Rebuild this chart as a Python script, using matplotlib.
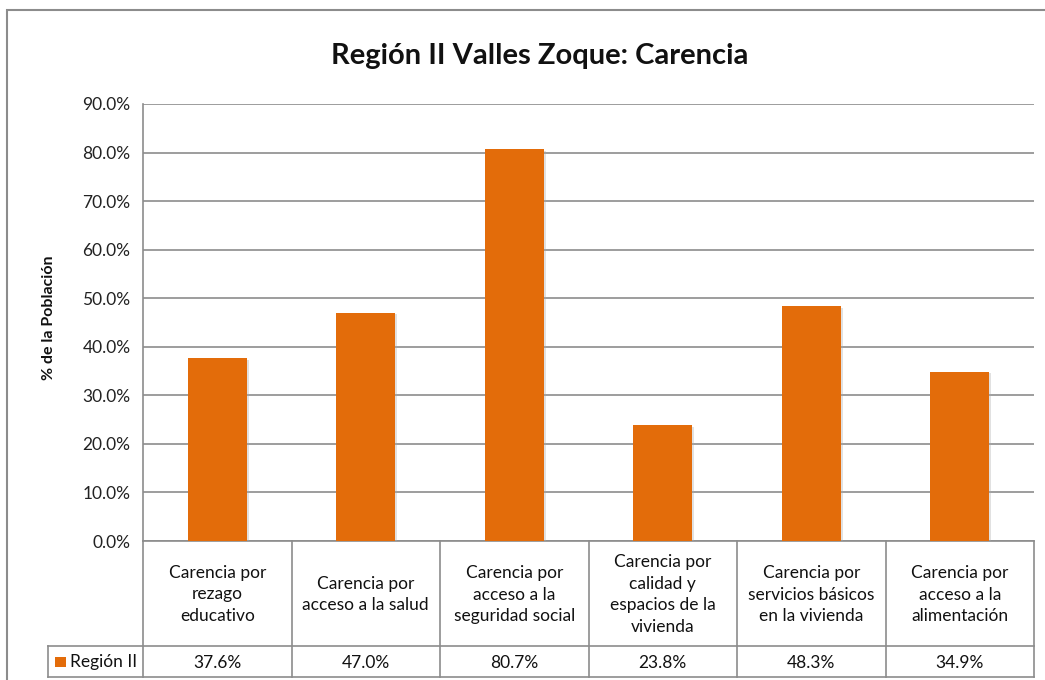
import matplotlib
matplotlib.use("Agg")
import matplotlib.pyplot as plt
from matplotlib.transforms import blended_transform_factory
from matplotlib.patches import Rectangle
import matplotlib.patheffects as pe
from matplotlib.ticker import FuncFormatter

plt.rcParams['font.family'] = ['Lato', 'DejaVu Sans']

title = "Región II Valles Zoque: Carencia"
ylabel = "% de la Población"
series_name = "Región II"
categories = [
    "Carencia por\nrezago\neducativo",
    "Carencia por\nacceso a la salud",
    "Carencia por\nacceso a la\nseguridad social",
    "Carencia por\ncalidad y\nespacios de la\nvivienda",
    "Carencia por\nservicios básicos\nen la vivienda",
    "Carencia por\nacceso a la\nalimentación",
]
values = [37.6, 47.0, 80.7, 23.8, 48.3, 34.9]
yticks = [0, 10, 20, 30, 40, 50, 60, 70, 80, 90]

W, H = 1045, 680
BAR = "#E36C0A"
GRID = "#8C8C8C"

fig = plt.figure(figsize=(W / 100, H / 100), dpi=100)

def fx(px):
    return px / W

def fy(py):
    return (H - py) / H

ax_left, ax_right, ax_top, ax_bot = 143, 1034, 104, 541
ax = fig.add_axes([fx(ax_left), fy(ax_bot), fx(ax_right - ax_left), (ax_bot - ax_top) / H])

x = list(range(len(categories)))
bars = ax.bar(x, values, width=0.40, color=BAR, zorder=3,
              path_effects=[pe.SimplePatchShadow(offset=(1.2, -1.2), shadow_rgbFace="#aaaaaa", alpha=0.35), pe.Normal()])
ax.set_xlim(-0.5, len(categories) - 0.5)
ax.set_ylim(0, 90)
ax.set_yticks(yticks)
ax.yaxis.set_major_formatter(FuncFormatter(lambda v, p: f"{v:.1f}%"))
ax.tick_params(axis='y', length=0, pad=9, labelsize=12.5, labelcolor="#222222")
ax.set_xticks([])
ax.grid(axis='y', color=GRID, linewidth=1.2, zorder=0)
for s in ['top', 'right']:
    ax.spines[s].set_visible(False)
ax.spines['left'].set_color(GRID)
ax.spines['left'].set_linewidth(1.2)
ax.spines['bottom'].set_color(GRID)
ax.spines['bottom'].set_linewidth(1.2)

# y label
fig.text(fx(49), fy(318), ylabel, rotation=90, ha='center', va='center',
         fontsize=11.5, fontweight='bold', color="#111111")

# title
fig.text(fx(540), fy(56), title, ha='center', va='center', fontsize=21,
         fontweight='bold', color="#111111")

# data table below axes
tr = blended_transform_factory(ax.transData, fig.transFigure)
row1_bot, row2_bot = 646, 677
lkw = dict(color=GRID, linewidth=1.2, clip_on=False)
n = len(categories)
for i in range(n + 1):
    xb = i - 0.5
    fig.add_artist(plt.Line2D([xb, xb], [fy(ax_bot), fy(row2_bot)], transform=tr, **lkw))
fig.add_artist(plt.Line2D([fx(48), fx(ax_right)], [fy(row1_bot), fy(row1_bot)], transform=fig.transFigure, **lkw))
fig.add_artist(plt.Line2D([fx(48), fx(ax_right)], [fy(row2_bot), fy(row2_bot)], transform=fig.transFigure, **lkw))
fig.add_artist(plt.Line2D([fx(48), fx(48)], [fy(row1_bot), fy(row2_bot)], transform=fig.transFigure, **lkw))

for i, (c, v) in enumerate(zip(categories, values)):
    fig.text(i, fy((ax_bot + row1_bot) / 2 + 1), c, transform=tr, ha='center', va='center',
             fontsize=12.5, color="#111111", linespacing=1.45)
    fig.text(i, fy((row1_bot + row2_bot) / 2 + 1), f"{v:.1f}%", transform=tr, ha='center',
             va='center', fontsize=12.5, color="#111111")

# legend key
fig.add_artist(Rectangle((fx(55), fy(667)), fx(10.5), 10.5 / H, transform=fig.transFigure,
                         facecolor=BAR, edgecolor='none'))
fig.text(fx(70), fy(662), series_name, ha='left', va='center', fontsize=12.5, color="#111111")

# outer chart border
fig.add_artist(Rectangle((fx(7), fy(700)), fx(1100), 690 / H, transform=fig.transFigure,
                         facecolor='none', edgecolor=GRID, linewidth=1.5, clip_on=True))

fig.savefig("out.png", dpi=100)
